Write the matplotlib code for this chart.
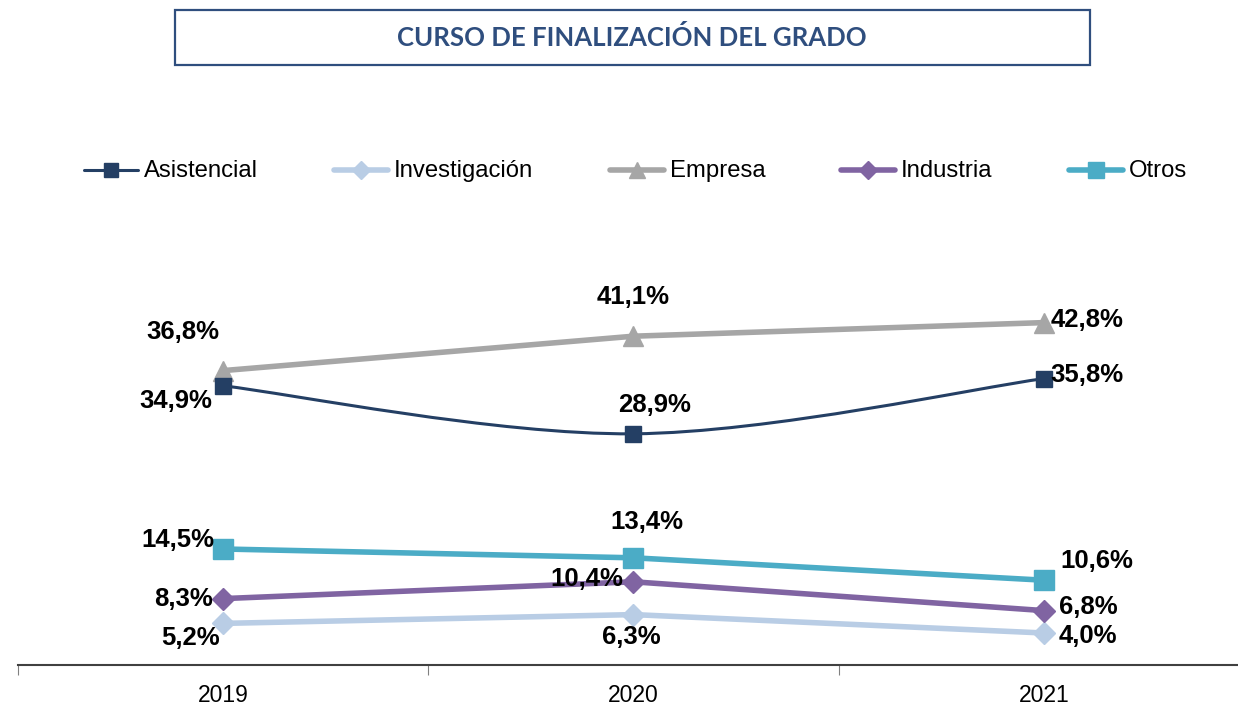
import numpy as np
import matplotlib
matplotlib.use('Agg')
import matplotlib.pyplot as plt
from matplotlib.path import Path
from matplotlib.patches import PathPatch, Rectangle
from matplotlib.lines import Line2D

plt.rcParams['font.family'] = ['Liberation Sans', 'DejaVu Sans']

years = ['2019', '2020', '2021']
series = ['Asistencial', 'Investigación', 'Empresa', 'Industria', 'Otros']
asistencial = [34.9, 28.9, 35.8]
investigacion = [5.2, 6.3, 4.0]
empresa = [36.8, 41.1, 42.8]
industria = [8.3, 10.4, 6.8]
otros = [14.5, 13.4, 10.6]

values = [asistencial, investigacion, empresa, industria, otros]
colors = ['#243F64', '#B9CDE5', '#A6A6A6', '#8064A2', '#4BACC6']
markers = ['s', 'D', '^', 'D', 's']
msizes = [12, 11, 14, 11, 14]
lwidths = [2.2, 4.0, 4.0, 4.0, 4.0]

# label offsets in pixels (dx, dy) for each series/point
offsets = [
    [(-47, -15), (21, 29), (43, 4)],
    [(-33, -15), (-2, -22), (44, -3)],
    [(-40, 39), (0, 39), (43, 3)],
    [(-40, 0), (-47, 3), (44, 4)],
    [(-45, 9), (13, 36), (53, 19)],
]

W, H = 1238, 706
fig = plt.figure(figsize=(W / 100, H / 100), dpi=100)
ax = fig.add_axes([18 / W, 41 / H, 1231 / W, 400 / H])
x = np.arange(len(years))

for i, name in enumerate(series):
    y = np.array(values[i], dtype=float)
    if i == 0:
        # smoothed line (catmull-rom style bezier, like a spreadsheet smooth line)
        pts = np.column_stack([x, y])
        verts = [pts[0]]
        codes = [Path.MOVETO]
        n = len(pts)
        for k in range(n - 1):
            p_prev = pts[k - 1] if k > 0 else pts[k]
            p_next = pts[k + 2] if k + 2 < n else pts[k + 1]
            c1 = pts[k] + (pts[k + 1] - p_prev) / 6
            c2 = pts[k + 1] - (p_next - pts[k]) / 6
            verts += [c1, c2, pts[k + 1]]
            codes += [Path.CURVE4] * 3
        ax.add_patch(PathPatch(Path(verts, codes), fill=False, edgecolor=colors[i],
                               lw=lwidths[i], capstyle='round', zorder=3))
        ax.plot(x, y, linestyle='none', marker=markers[i], ms=msizes[i],
                color=colors[i], zorder=4)
    else:
        ax.plot(x, y, color=colors[i], lw=lwidths[i], marker=markers[i],
                ms=msizes[i], zorder=3, solid_capstyle='round')
    for k in range(len(years)):
        ax.annotate(f'{y[k]:.1f}%'.replace('.', ','), (x[k], y[k]),
                    xytext=offsets[i][k], textcoords='offset pixels',
                    ha='center', va='center', fontsize=18.5, fontweight='bold',
                    color='black', zorder=5)

ax.set_xlim(-0.5, 2.5)
ax.set_ylim(0, 50)
for s in ['top', 'right', 'left']:
    ax.spines[s].set_visible(False)
ax.spines['bottom'].set_color('#404040')
ax.spines['bottom'].set_linewidth(1.5)
ax.set_yticks([])
ax.set_xticks(x)
ax.set_xticklabels(years, fontsize=16.5)
ax.set_xticks([-0.5, 0.5, 1.5, 2.5], minor=True)
ax.tick_params(axis='x', which='major', length=0, pad=14)
ax.tick_params(axis='x', which='minor', length=7, width=0.8, color='#808080')

# legend drawn by hand so all labels share one baseline
leg_x = [84, 334, 610, 841, 1069]
leg_y = 1 - 170 / H
for i, name in enumerate(series):
    x0 = leg_x[i] / W
    x1 = (leg_x[i] + 54) / W
    fig.add_artist(Line2D([x0, x1], [leg_y, leg_y], transform=fig.transFigure,
                          color=colors[i], lw=lwidths[i], solid_capstyle='round'))
    fig.add_artist(Line2D([(x0 + x1) / 2], [leg_y], transform=fig.transFigure,
                          color=colors[i], marker=markers[i], ms=msizes[i] - 2,
                          linestyle='none'))
    fig.text((leg_x[i] + 60) / W, 1 - 177 / H, name, ha='left', va='baseline',
             fontsize=17.2, color='black')

fig.patches.append(Rectangle((175 / W, 1 - 65 / H), 915 / W, 55 / H,
                             transform=fig.transFigure, fill=False,
                             edgecolor='#2F4E7E', lw=1.6))
fig.text(632 / W, 1 - 38 / H, 'CURSO DE FINALIZACIÓN DEL GRADO',
         ha='center', va='center', fontsize=18.5, fontweight='bold',
         color='#2F4E7E', family=['Lato', 'DejaVu Sans'])

fig.savefig('out.png', dpi=100)
